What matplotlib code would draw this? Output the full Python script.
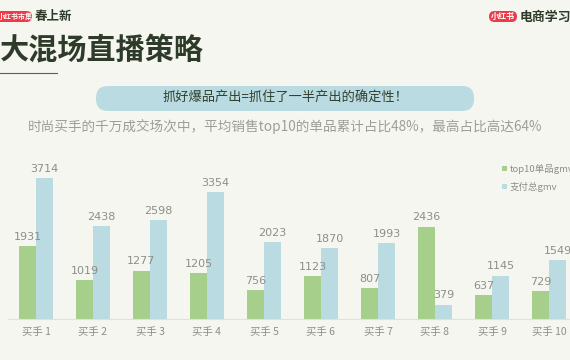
import matplotlib
matplotlib.use("Agg")
import matplotlib.pyplot as plt
from matplotlib.patches import FancyBboxPatch
import numpy as np

plt.rcParams['font.family'] = ['Noto Sans CJK SC', 'DejaVu Sans']

categories = ["买手 1", "买手 2", "买手 3", "买手 4", "买手 5",
              "买手 6", "买手 7", "买手 8", "买手 9", "买手 10"]
top10_gmv = [1931, 1019, 1277, 1205, 756, 1123, 807, 2436, 637, 729]
total_gmv = [3714, 2438, 2598, 3354, 2023, 1870, 1993, 379, 1145, 1549]
series_names = ["top10单品gmv", "支付总gmv"]

BG = "#f5f6ef"
GREEN = "#a6cf8c"
BLUE = "#badbe2"
GRAY = "#8c8f88"
DARK = "#2e3b2a"

W, H = 570, 360
fig = plt.figure(figsize=(W / 100, H / 100), dpi=100)
fig.patch.set_facecolor(BG)

def fx(px):
    return px / W

def fy(py):
    return 1 - py / H

# overlay in pixel coordinates for header decorations
ov = fig.add_axes([0, 0, 1, 1])
ov.set_xlim(0, W)
ov.set_ylim(H, 0)
ov.axis("off")
ov.set_facecolor("none")

ov.add_patch(FancyBboxPatch((-6, 11), 38, 11, boxstyle="round,pad=0,rounding_size=5.5",
                            facecolor="#ee3b4a", edgecolor="none"))
ov.text(15, 16.5, "小红书市集", fontsize=5.0, color="white", fontweight="bold",
        ha="center", va="center")
ov.text(35, 16.5, "春上新", fontsize=9, color=DARK, fontweight="bold",
        ha="left", va="center")

ov.add_patch(FancyBboxPatch((489, 11), 28, 11, boxstyle="round,pad=0,rounding_size=5.5",
                            facecolor="#ee3b4a", edgecolor="none"))
ov.text(503, 16.5, "小红书", fontsize=5.8, color="white", fontweight="bold",
        ha="center", va="center")
ov.text(520, 16.5, "电商学习中", fontsize=9.3, color=DARK, fontweight="bold",
        ha="left", va="center")

ov.text(0, 49, "大混场直播策略", fontsize=21, color=DARK, fontweight="bold",
        ha="left", va="center")
ov.plot([0, 57], [73, 73], color="#5a6356", lw=0.8)

ov.add_patch(FancyBboxPatch((96, 86), 378, 25, boxstyle="round,pad=0,rounding_size=12",
                            facecolor="#b9dbe1", edgecolor="none"))
ov.text(285, 98.5, "抓好爆品产出=抓住了一半产出的确定性！", fontsize=9.5,
        color="#33402f", ha="center", va="center")

ov.text(285, 127, "时尚买手的千万成交场次中，平均销售top10的单品累计占比48%，最高占比高达64%",
        fontsize=9.8, color="#9c9f98", ha="center", va="center")

# chart axes
ax_left, ax_right = 7.5, 570
ax_bottom, ax_top = 319, 160
ax = fig.add_axes([fx(ax_left), fy(ax_bottom), fx(ax_right - ax_left), (ax_bottom - ax_top) / H])
ax.set_facecolor("none")
x = np.arange(len(categories))
bw = 0.3
b1 = ax.bar(x - bw / 2, top10_gmv, bw, color=GREEN, label=series_names[0])
b2 = ax.bar(x + bw / 2, total_gmv, bw, color=BLUE, label=series_names[1])
ax.set_xlim(-0.5, (ax_right - ax_left) / 57 - 0.5)
ax.set_ylim(0, (ax_bottom - ax_top) / (141 / 3714))
for bars in (b1, b2):
    for r in bars:
        ax.annotate(f"{int(r.get_height())}", (r.get_x() + r.get_width() / 2, r.get_height()),
                    xytext=(0, 3), textcoords="offset points", ha="center", va="bottom",
                    fontsize=8, color=GRAY, family="DejaVu Sans")
ax.set_xticks(x)
ax.set_xticklabels(categories, fontsize=7.5, color=GRAY)
ax.tick_params(axis="x", length=0, pad=6)
ax.set_yticks([])
for s in ["top", "right", "left"]:
    ax.spines[s].set_visible(False)
ax.spines["bottom"].set_color("#dfe2da")
ax.spines["bottom"].set_linewidth(0.8)

leg = fig.legend(handles=[b1, b2], labels=series_names, loc="upper left",
                 bbox_to_anchor=(fx(502), fy(164)), frameon=False, fontsize=6.8,
                 handlelength=0.5, handleheight=0.5, handletextpad=0.3, labelspacing=0.8,
                 labelcolor=GRAY, borderpad=0, borderaxespad=0)

fig.savefig("out.png", dpi=100, facecolor=BG)
